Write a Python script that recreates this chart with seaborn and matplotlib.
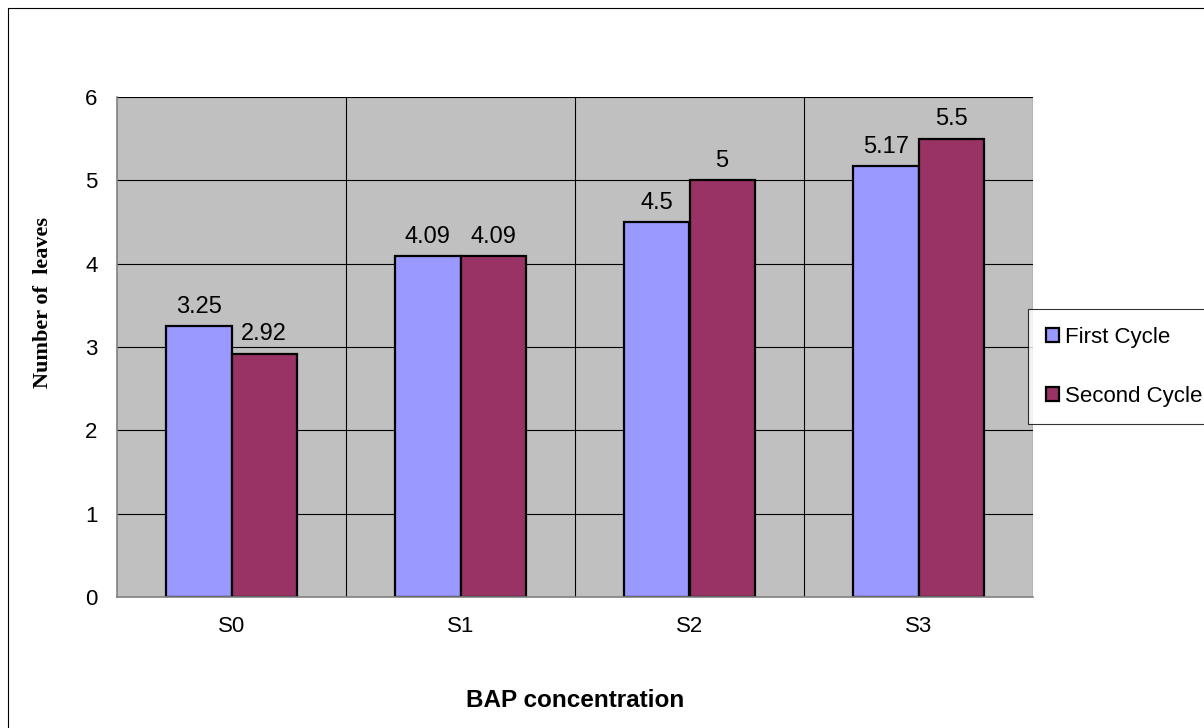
import matplotlib
matplotlib.use("Agg")
import matplotlib.pyplot as plt
import seaborn as sns
import pandas as pd
from matplotlib.lines import Line2D
from matplotlib.patches import Patch

categories = ["S0", "S1", "S2", "S3"]
first_cycle = [3.25, 4.09, 4.5, 5.17]
second_cycle = [2.92, 4.09, 5.0, 5.5]
series_names = ["First Cycle", "Second Cycle"]
label_first = ["3.25", "4.09", "4.5", "5.17"]
label_second = ["2.92", "4.09", "5", "5.5"]

df = pd.DataFrame({
    "cat": categories * 2,
    "val": first_cycle + second_cycle,
    "series": [series_names[0]] * 4 + [series_names[1]] * 4,
})

sns.set_style("white")
plt.rcParams["font.family"] = ["Liberation Sans", "DejaVu Sans"]
plt.rcParams["text.color"] = "black"
plt.rcParams["axes.labelcolor"] = "black"
plt.rcParams["xtick.color"] = "black"
plt.rcParams["ytick.color"] = "black"

colors = ["#9999FF", "#993366"]
FS = 16

fig = plt.figure(figsize=(12.04, 7.28), dpi=100)
ax = fig.add_axes([117 / 1204, 1 - 597 / 728, (1033 - 117) / 1204, (597 - 97) / 728])
ax.set_facecolor("#C0C0C0")

sns.barplot(data=df, x="cat", y="val", hue="series", palette=colors,
            width=0.57, dodge=True, ax=ax, legend=False,
            edgecolor="black", linewidth=1.6, saturation=1)

ax.set_xlim(-0.5, 3.5)
ax.set_ylim(0, 6)
ax.set_yticks(range(0, 7))
ax.set_xticks(range(4))
ax.set_xticklabels(categories)

# horizontal grid
for y in range(1, 7):
    ax.axhline(y, color="black", lw=0.8, zorder=0.5)
# vertical separators between categories
for x in [0.5, 1.5, 2.5, 3.5]:
    ax.axvline(x, color="black", lw=0.8, zorder=0.5)

for s in ["top", "right"]:
    ax.spines[s].set_visible(False)
ax.spines["left"].set_color("#808080")
ax.spines["bottom"].set_color("#808080")
ax.spines["left"].set_linewidth(1.2)
ax.spines["bottom"].set_linewidth(1.2)

# ticks at category boundaries on x-axis
ax.set_xticks([-0.5, 0.5, 1.5, 2.5, 3.5], minor=True)
ax.tick_params(axis="x", which="major", length=0, pad=14, labelsize=FS, labelcolor="black")
ax.tick_params(axis="x", which="minor", length=6, color="#404040", width=1, direction="out")
ax.tick_params(axis="y", length=6, color="#404040", width=1, direction="out", pad=8,
               labelsize=FS, labelcolor="black")

labels = [label_first, label_second]
for i, cont in enumerate(ax.containers):
    ax.bar_label(cont, labels=labels[i], padding=6, fontsize=17, color="black")

ax.set_xlabel("BAP concentration", fontsize=17.5, fontweight="bold", labelpad=37)
ax.set_ylabel("Number of  leaves", fontsize=16, fontweight="bold",
              family="Liberation Serif")
ax.yaxis.set_label_coords((53 - 117) / 916, (597 - 303) / 500)

handles = [Patch(facecolor=c, edgecolor="black", linewidth=1.6) for c in colors]
leg = fig.legend(handles, series_names, loc="upper left",
                 bbox_to_anchor=(1028 / 1204, 1 - 309 / 728),
                 fontsize=FS, frameon=True, fancybox=False,
                 handlelength=0.6, handleheight=0.6, handletextpad=0.25,
                 labelspacing=1.7, borderpad=0.8, borderaxespad=0)
leg.get_frame().set_edgecolor("black")
leg.get_frame().set_linewidth(0.8)
leg.get_frame().set_facecolor("white")

# chart frame along the left and top edges
fig.add_artist(Line2D([8 / 1204, 8 / 1204], [0, 1 - 8 / 728],
                      transform=fig.transFigure, color="black", lw=0.8))
fig.add_artist(Line2D([8 / 1204, 1], [1 - 8 / 728, 1 - 8 / 728],
                      transform=fig.transFigure, color="black", lw=0.8))

fig.savefig("out.png", dpi=100, facecolor="white")
